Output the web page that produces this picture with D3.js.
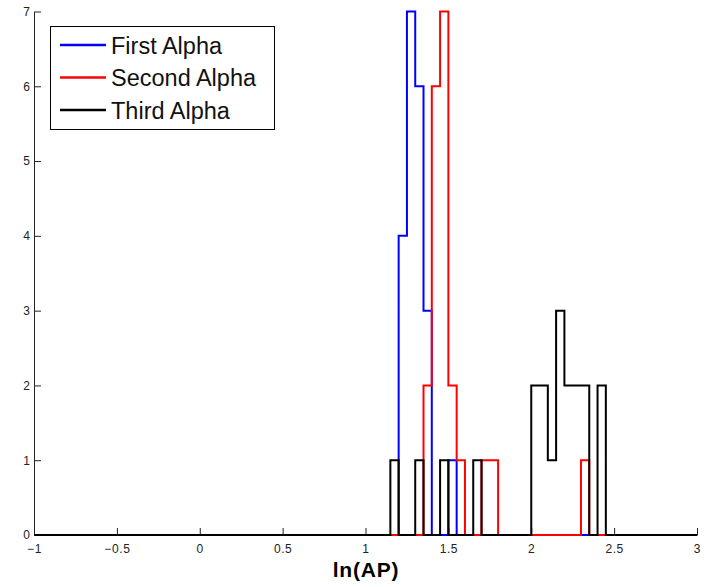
<!DOCTYPE html>
<html>
<head>
<meta charset="utf-8">
<script src="https://cdn.jsdelivr.net/npm/d3@7"></script>
<style>
  body { margin: 0; background: #fff; }
  text { font-family: "Liberation Sans", Arial, Helvetica, sans-serif; }
</style>
</head>
<body>
<svg id="chart" width="709" height="587"></svg>
<script>
let svg = d3.select("#chart");

// -------------------- DATA -------------------- //
// histogram bins (left edge, count), bin width 0.05
const binWidth = 0.05;
const xDomain = [-1, 3];
const yDomain = [0, 7];
const xTicks = [-1, -0.5, 0, 0.5, 1, 1.5, 2, 2.5, 3];
const yTicks = [0, 1, 2, 3, 4, 5, 6, 7];

const firstEdges = [1.20, 1.25, 1.30, 1.35, 1.50];
const firstCounts = [4, 7, 6, 3, 1];

const secondEdges = [1.35, 1.40, 1.45, 1.50, 1.55, 1.70, 1.75, 2.30];
const secondCounts = [2, 6, 7, 2, 1, 1, 1, 1];

const thirdEdges = [1.15, 1.30, 1.45, 1.65, 2.00, 2.05, 2.10, 2.15, 2.20, 2.25, 2.30, 2.40];
const thirdCounts = [1, 1, 1, 1, 2, 2, 1, 3, 2, 2, 2, 2];

const seriesNames = ["First Alpha", "Second Alpha", "Third Alpha"];
const seriesColors = ["#0000ff", "#ff0000", "#000000"];

// -------------------- SCALES -------------------- //
let x = d3.scaleLinear().domain(xDomain).range([34, 697]);
let y = d3.scaleLinear().domain(yDomain).range([535, 11.5]);

// build stair points from bins, baseline across the whole range
function stairPoints(edges, counts) {
    let pts = [[xDomain[0], 0]];
    let prevEnd = xDomain[0];
    edges.forEach((e, i) => {
        if (e > prevEnd + 1e-9) pts.push([prevEnd, 0]);
        pts.push([e, counts[i]]);
        prevEnd = e + binWidth;
    });
    pts.push([prevEnd, 0]);
    pts.push([xDomain[1], 0]);
    return pts;
}

let line = d3.line()
    .x(d => x(d[0]))
    .y(d => y(d[1]))
    .curve(d3.curveStepAfter);

// -------------------- AXES -------------------- //
let xAxis = svg.append("g")
    .attr("transform", `translate(0,${y(0)})`)
    .call(d3.axisBottom(x).tickValues(xTicks).tickSizeInner(-7).tickSizeOuter(0)
        .tickFormat(d => String(d).replace("-", "\u2212")));
xAxis.selectAll("text").attr("dy", null).attr("y", 18)
    .style("font-size", "12px").style("letter-spacing", "0.6px").attr("fill", "#222");

let yAxis = svg.append("g")
    .attr("transform", `translate(${x(-1)},0)`)
    .call(d3.axisLeft(y).tickValues(yTicks).tickSizeInner(-7).tickSizeOuter(0)
        .tickFormat(d3.format("d")));
yAxis.selectAll("text").attr("x", -4)
    .style("font-size", "12px").attr("fill", "#222");

svg.selectAll(".domain").attr("stroke", "#222");
svg.selectAll(".tick line").attr("stroke", "#222");

// -------------------- HISTOGRAMS -------------------- //
let allSeries = [
    stairPoints(firstEdges, firstCounts),
    stairPoints(secondEdges, secondCounts),
    stairPoints(thirdEdges, thirdCounts)
];

svg.append("g").selectAll("path")
    .data(allSeries)
    .enter()
    .append("path")
    .attr("d", d => line(d))
    .attr("fill", "none")
    .attr("stroke", (d, i) => seriesColors[i])
    .attr("stroke-width", 2);

// -------------------- LABEL -------------------- //
svg.append("text")
    .attr("x", 366)
    .attr("y", 577)
    .attr("text-anchor", "middle")
    .style("font-size", "21px")
    .style("font-weight", "bold")
    .style("letter-spacing", "0.8px")
    .text("ln(AP)");

// -------------------- LEGEND -------------------- //
let legend = svg.append("g");
legend.append("rect")
    .attr("x", 50.5).attr("y", 26.5)
    .attr("width", 224).attr("height", 103)
    .attr("fill", "#fff").attr("stroke", "#000");

let items = legend.selectAll(".item")
    .data(seriesNames)
    .enter()
    .append("g")
    .attr("class", "item")
    .attr("transform", (d, i) => `translate(0,${45 + i * 32.5})`);

items.append("line")
    .attr("x1", 60).attr("x2", 106)
    .attr("stroke", (d, i) => seriesColors[i])
    .attr("stroke-width", 2.5);

items.append("text")
    .attr("x", 111)
    .attr("y", 8.5)
    .style("font-size", "23.5px")
    .attr("fill", "#111")
    .text(d => d);
</script>
</body>
</html>
